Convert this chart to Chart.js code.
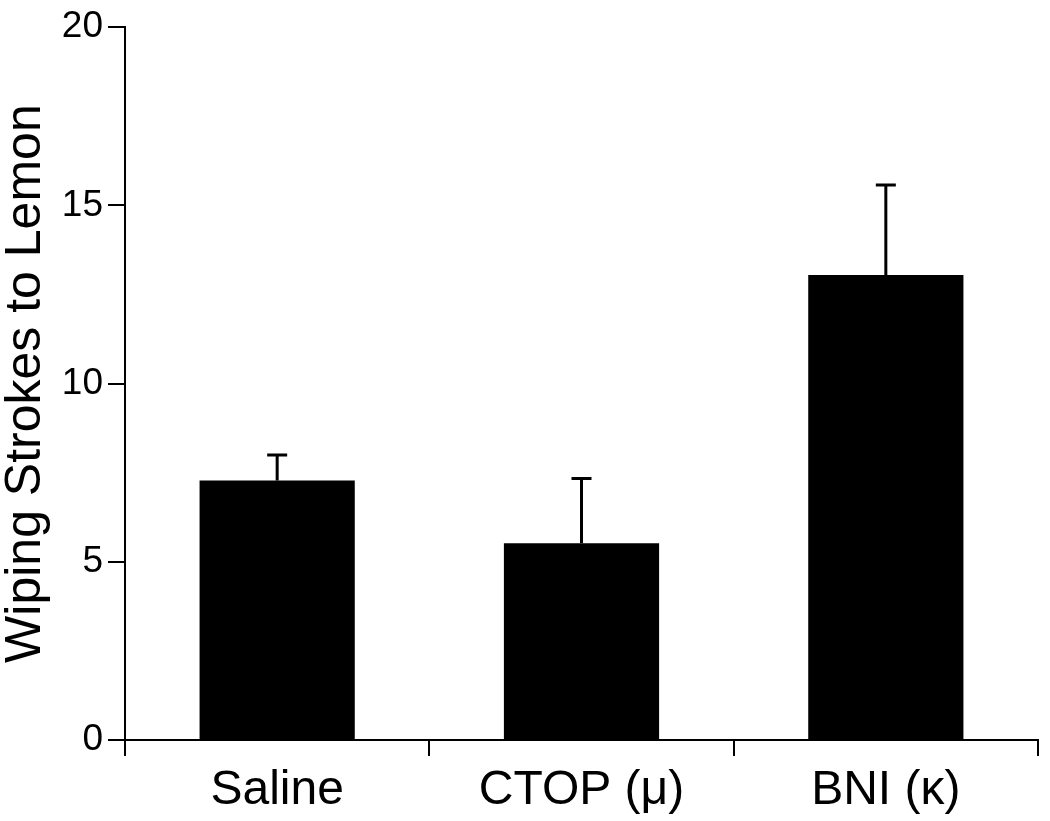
<!DOCTYPE html>
<html>
<head>
<meta charset="utf-8">
<script src="https://cdn.jsdelivr.net/npm/chart.js@4"></script>
<style>
  html, body { margin: 0; padding: 0; background: #fff; }
  #wrap { width: 1050px; height: 821px; }
</style>
</head>
<body>
<div id="wrap"><canvas id="chart" width="1050" height="821"></canvas></div>
<script>
const groups = ['Saline', 'CTOP (\u03bc)', 'BNI (\u03ba)'];
const means = [7.28, 5.52, 13.05];
const errUp = [0.72, 1.82, 2.52];
const yTicks = [0, 5, 10, 15, 20];

// upward-only error bars with caps
const errorBars = {
    id: 'errorBars',
    afterDatasetsDraw(chart) {
        const ctx = chart.ctx;
        const meta = chart.getDatasetMeta(0);
        const y = chart.scales.y;
        ctx.save();
        ctx.strokeStyle = '#000';
        ctx.lineWidth = 3;
        meta.data.forEach((bar, i) => {
            const top = y.getPixelForValue(means[i] + errUp[i]);
            const base = y.getPixelForValue(means[i]);
            ctx.beginPath();
            ctx.moveTo(bar.x, base);
            ctx.lineTo(bar.x, top);
            ctx.moveTo(bar.x - 10, top);
            ctx.lineTo(bar.x + 10, top);
            ctx.stroke();
        });
        ctx.restore();
    }
};

new Chart(document.getElementById('chart'), {
    type: 'bar',
    data: {
        labels: groups,
        datasets: [{
            data: means,
            backgroundColor: '#000',
            borderWidth: 0,
            categoryPercentage: 1,
            barPercentage: 0.51,
        }],
    },
    options: {
        responsive: false,
        animation: false,
        layout: { padding: { top: 26, right: 12, left: 0, bottom: 0 } },
        plugins: { legend: { display: false }, tooltip: { enabled: false } },
        scales: {
            x: {
                offset: true,
                grid: { display: true, drawOnChartArea: false, offset: true, tickLength: 16, color: '#000', lineWidth: 2 },
                border: { display: true, color: '#000', width: 2 },
                ticks: { color: '#000', padding: 6, font: { family: 'Liberation Sans', size: 48 }, maxRotation: 0 },
                afterFit: s => { s.height = 81; },
            },
            y: {
                min: 0,
                max: 20,
                afterBuildTicks: s => { s.ticks = yTicks.map(v => ({ value: v })); },
                grid: { display: true, drawOnChartArea: false, tickLength: 17, color: '#000', lineWidth: 2 },
                border: { display: true, color: '#000', width: 2 },
                ticks: { color: '#000', padding: 5, font: { family: 'Liberation Sans', size: 37 } },
                title: {
                    display: true,
                    text: 'Wiping Strokes to Lemon',
                    color: '#000',
                    font: { family: 'Liberation Sans', size: 50, lineHeight: 1.05 },
                    padding: { top: 0, bottom: 0 },
                },
                afterFit: s => { s.width = 125; },
            },
        },
    },
    plugins: [errorBars],
});
</script>
</body>
</html>
